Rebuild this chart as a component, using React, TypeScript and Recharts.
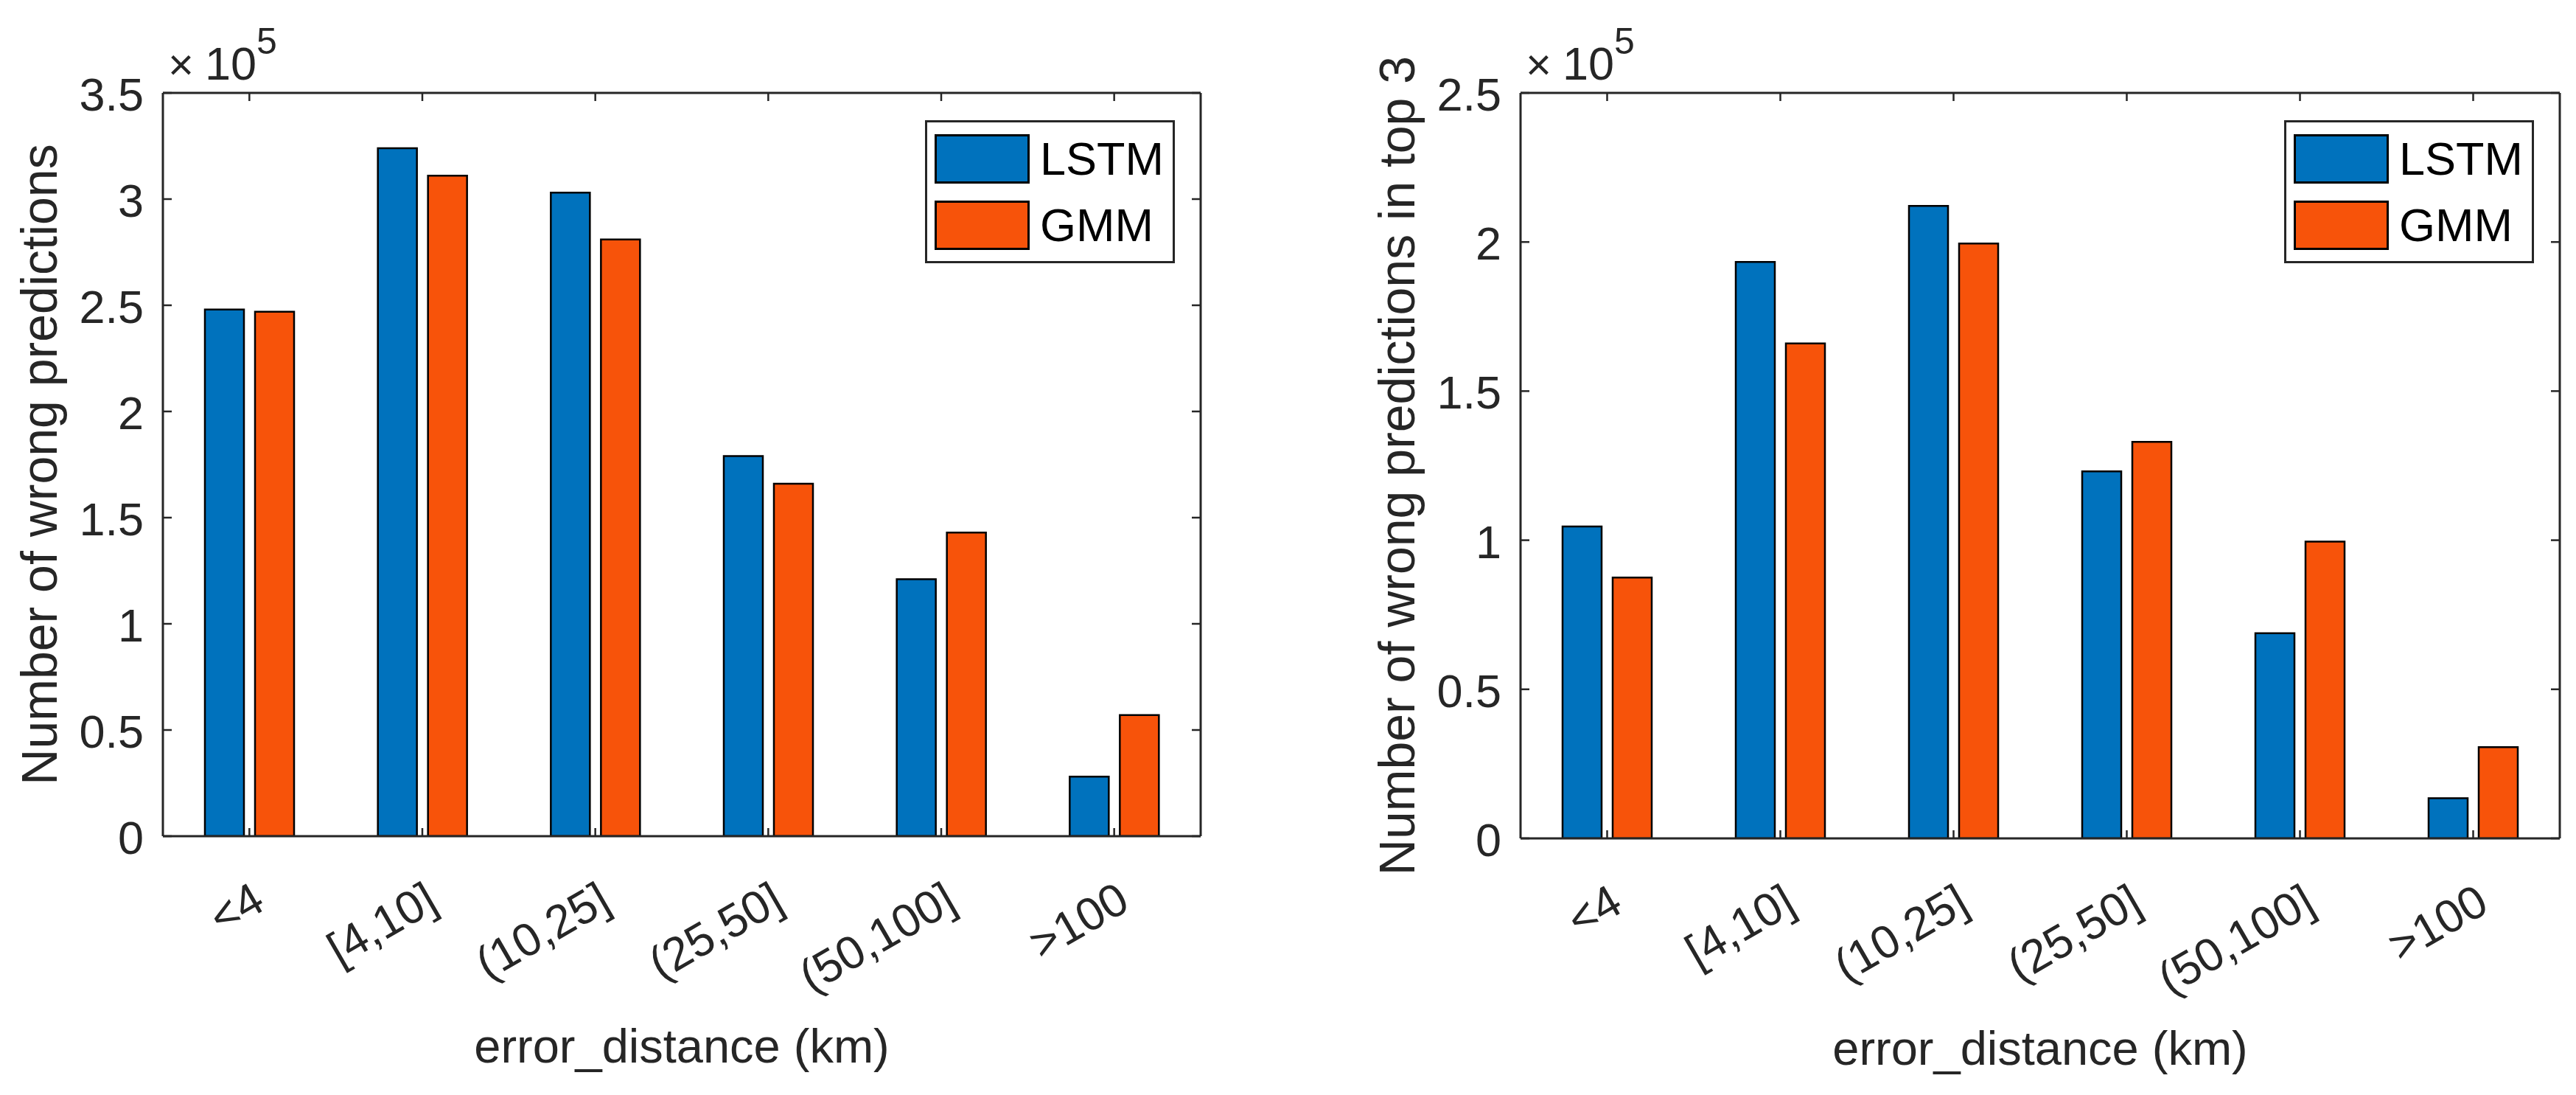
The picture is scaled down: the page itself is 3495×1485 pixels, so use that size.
import React from 'react';
import { BarChart, Bar, XAxis, YAxis, Legend } from 'recharts';

// ---------- data ----------
const categories = ['<4', '[4,10]', '(10,25]', '(25,50]', '(50,100]', '>100'];
const lstmWrong = [248000, 324000, 303000, 179000, 121000, 28000];
const gmmWrong = [247000, 311000, 281000, 166000, 143000, 57000];
const lstmTop3 = [104600, 193300, 212100, 123100, 68800, 13500];
const gmmTop3 = [87500, 166000, 199500, 133000, 99500, 30600];
const leftTicks = [0, 50000, 100000, 150000, 200000, 250000, 300000, 350000];
const rightTicks = [0, 50000, 100000, 150000, 200000, 250000];
const seriesNames = ['LSTM', 'GMM'];
const xTitle = 'error_distance (km)';
const leftTitle = 'Number of wrong predictions';
const rightTitle = 'Number of wrong predictions in top 3';

const leftData = categories.map((c, i) => ({ cat: c, lstm: lstmWrong[i], gmm: gmmWrong[i] }));
const rightData = categories.map((c, i) => ({ cat: c, lstm: lstmTop3[i], gmm: gmmTop3[i] }));

// ---------- style ----------
const FONT = '"Liberation Sans", Arial, Helvetica, sans-serif';
const AX = '#262626';
const BLUE = '#0072BD';
const ORANGE = '#F7530A';
const H = 1485;

type PanelProps = {
  data: any[];
  yTicks: number[];
  yMax: number;
  yTitle: string;
  left: number;
  width: number;
  plotLeft: number;
  plotRight: number;
  plotTop: number;
  plotBottom: number;
};

function Panel(p: PanelProps) {
  const { data, yTicks, yMax, yTitle, left, width, plotLeft, plotRight, plotTop, plotBottom } = p;
  const axisLine = { stroke: AX, strokeWidth: 3 };
  const legendW = 339;
  const legendH = 194;
  const legendLeft = plotRight - 35 - legendW;

  const xTick = (props: any) => {
    const { x, y, payload } = props;
    const ax = x + 24;
    const ay = y + 98;
    return (
      <g>
        <line x1={x} x2={x} y1={y} y2={y - 11} stroke={AX} strokeWidth={2.5} />
        <text x={ax} y={ay} textAnchor="end" transform={`rotate(-30, ${ax}, ${ay})`}
          fontSize={63} fill={AX} fontFamily={FONT}>{payload.value}</text>
      </g>
    );
  };
  const topTick = (props: any) => {
    const { x, y } = props;
    return <line x1={x} x2={x} y1={y} y2={y + 11} stroke={AX} strokeWidth={2.5} />;
  };
  const yTick = (props: any) => {
    const { x, y, payload } = props;
    return (
      <g>
        <line x1={x} x2={x + 12} y1={y} y2={y} stroke={AX} strokeWidth={2.5} />
        <text x={x - 26} y={y + 24} textAnchor="end" fontSize={63} fill={AX} fontFamily={FONT}>
          {String(payload.value / 1e5)}
        </text>
      </g>
    );
  };
  const rTick = (props: any) => {
    const { x, y } = props;
    return <line x1={x} x2={x - 12} y1={y} y2={y} stroke={AX} strokeWidth={2.5} />;
  };

  const yLabel = () => {
    const cy = (plotTop + plotBottom) / 2;
    const bx = plotLeft - 144;
    return (
      <g fontFamily={FONT} fill={AX}>
        <text transform={`translate(${bx}, ${cy}) rotate(-90)`} textAnchor="middle" fontSize={68}>{yTitle}</text>
        <text x={plotLeft + 7} y={plotTop - 18} fontSize={60}>×</text>
        <text x={plotLeft + 57} y={plotTop - 18} fontSize={63}>10</text>
        <text x={plotLeft + 127} y={plotTop - 53} fontSize={50}>5</text>
      </g>
    );
  };
  const xLabel = () => (
    <text x={(plotLeft + plotRight) / 2} y={plotBottom + 307} textAnchor="middle" fontSize={65}
      fill={AX} fontFamily={FONT}>{xTitle}</text>
  );

  const legendContent = (lp: any) => {
    const items = [...(lp.payload || [])].sort(
      (a: any, b: any) => seriesNames.indexOf(a.value) - seriesNames.indexOf(b.value));
    return (
      <div style={{ position: 'relative', width: legendW, height: legendH, boxSizing: 'border-box',
        border: `3px solid ${AX}`, background: '#fff', fontFamily: FONT }}>
        {items.map((it: any, i: number) => (
          <div key={i} style={{ position: 'absolute', left: 10, top: 15 + i * 90, height: 68, display: 'flex', alignItems: 'center' }}>
            <div style={{ width: 129, height: 67, boxSizing: 'border-box', border: '3px solid #000', background: it.color }} />
            <span style={{ marginLeft: 14, fontSize: 63, lineHeight: '68px', color: '#000' }}>{it.value}</span>
          </div>
        ))}
      </div>
    );
  };

  return (
    <div style={{ position: 'absolute', left, top: 0, width, height: H }}>
      <BarChart width={width} height={H} data={data}
        margin={{ top: plotTop - 1, right: width - plotRight - 1, left: 0, bottom: 0 }}
        barSize={53} barGap={15}>
        <XAxis xAxisId="b" dataKey="cat" orientation="bottom" height={H - plotBottom}
          tickSize={0} tickMargin={0} tickLine={false} axisLine={axisLine} tick={xTick} interval={0}
          label={{ content: xLabel }} />
        <XAxis xAxisId="t" dataKey="cat" orientation="top" height={1}
          tickSize={0} tickMargin={0} tickLine={false} axisLine={axisLine} tick={topTick} interval={0} />
        <YAxis yAxisId="l" width={plotLeft} domain={[0, yMax]} ticks={yTicks} allowDataOverflow
          tickSize={0} tickMargin={0} tickLine={false} axisLine={axisLine} tick={yTick} interval={0}
          label={{ content: yLabel }} />
        <YAxis yAxisId="r" orientation="right" width={1} domain={[0, yMax]} ticks={yTicks} allowDataOverflow
          tickSize={0} tickMargin={0} tickLine={false} axisLine={axisLine} tick={rTick} interval={0} />
        <Bar xAxisId="b" yAxisId="l" dataKey="lstm" name={seriesNames[0]} fill={BLUE}
          stroke="#000" strokeWidth={2.5} isAnimationActive={false} />
        <Bar xAxisId="b" yAxisId="l" dataKey="gmm" name={seriesNames[1]} fill={ORANGE}
          stroke="#000" strokeWidth={2.5} isAnimationActive={false} />
        <Legend layout="vertical" align="center" verticalAlign="middle"
          wrapperStyle={{ position: 'absolute', left: legendLeft, top: 163, width: legendW, height: legendH }}
          content={legendContent} />
      </BarChart>
    </div>
  );
}

export default function App() {
  return (
    <div style={{ position: 'absolute', left: 0, top: 0, width: 3495, height: H, background: '#fff', fontFamily: FONT }}>
      <Panel data={leftData} yTicks={leftTicks} yMax={350000} yTitle={leftTitle}
        left={0} width={1745} plotLeft={221} plotRight={1629} plotTop={126} plotBottom={1134} />
      <Panel data={rightData} yTicks={rightTicks} yMax={250000} yTitle={rightTitle}
        left={1745} width={1750} plotLeft={318} plotRight={1728} plotTop={126} plotBottom={1137} />
    </div>
  );
}
